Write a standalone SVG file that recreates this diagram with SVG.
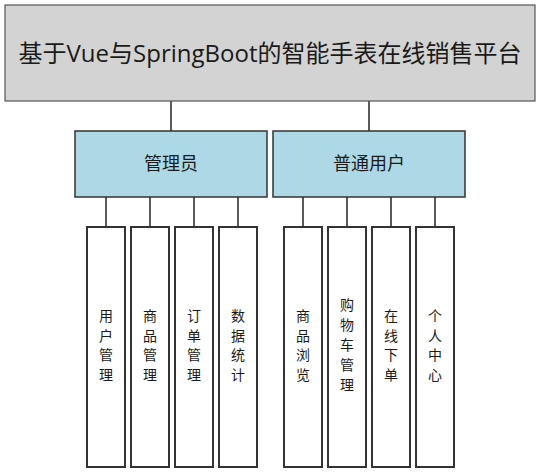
<svg xmlns="http://www.w3.org/2000/svg" width="540" height="473" viewBox="0 0 540 473">
<style>
  .box { stroke: #333; stroke-width: 1.5; }
  .root { fill: #d3d3d3; stroke: #555; stroke-width: 1.2; }
  .mid { fill: #add8e6; }
  .leaf { fill: #ffffff; stroke-width: 2; }
  .t { font-family: "Segoe UI", "Open Sans", "Noto Sans CJK SC", sans-serif; fill: #1a1a1a; text-anchor: middle; }
  .title { font-size: 24px; }
  .midt { font-size: 18px; }
  .leaft { font-size: 14px; }
  .conn { stroke: #222; stroke-width: 1.5; fill: none; }
</style>
<rect x="0" y="0" width="540" height="473" fill="#ffffff"/>
<g id="connectors">
  <line class="conn" x1="171" y1="101" x2="171" y2="131"/>
  <line class="conn" x1="369" y1="101" x2="369" y2="131"/>
  <line class="conn" x1="106" y1="197" x2="106" y2="227"/>
  <line class="conn" x1="150" y1="197" x2="150" y2="227"/>
  <line class="conn" x1="194" y1="197" x2="194" y2="227"/>
  <line class="conn" x1="238" y1="197" x2="238" y2="227"/>
  <line class="conn" x1="303" y1="197" x2="303" y2="227"/>
  <line class="conn" x1="347" y1="197" x2="347" y2="227"/>
  <line class="conn" x1="391" y1="197" x2="391" y2="227"/>
  <line class="conn" x1="435" y1="197" x2="435" y2="227"/>
</g>
<g id="root">
  <rect class="root" x="5" y="5" width="530" height="96"/>
  <text class="t title" x="270" y="62">基于Vue与SpringBoot的智能手表在线销售平台</text>
</g>
<g id="admin">
  <rect class="box mid" x="75" y="131" width="192" height="66"/>
  <text class="t midt" x="171" y="170">管理员</text>
</g>
<g id="user">
  <rect class="box mid" x="273" y="131" width="192" height="66"/>
  <text class="t midt" x="369" y="170">普通用户</text>
</g>
<g id="leaf-user-manage">
  <rect class="box leaf" x="87" y="227" width="38" height="240"/>
  <text class="t leaft" x="106" y="321"><tspan x="106">用</tspan><tspan x="106" dy="19.5">户</tspan><tspan x="106" dy="19.5">管</tspan><tspan x="106" dy="19.5">理</tspan></text>
</g>
<g id="leaf-goods-manage">
  <rect class="box leaf" x="131" y="227" width="38" height="240"/>
  <text class="t leaft" x="150" y="321"><tspan x="150">商</tspan><tspan x="150" dy="19.5">品</tspan><tspan x="150" dy="19.5">管</tspan><tspan x="150" dy="19.5">理</tspan></text>
</g>
<g id="leaf-order-manage">
  <rect class="box leaf" x="175" y="227" width="38" height="240"/>
  <text class="t leaft" x="194" y="321"><tspan x="194">订</tspan><tspan x="194" dy="19.5">单</tspan><tspan x="194" dy="19.5">管</tspan><tspan x="194" dy="19.5">理</tspan></text>
</g>
<g id="leaf-stats">
  <rect class="box leaf" x="219" y="227" width="38" height="240"/>
  <text class="t leaft" x="238" y="321"><tspan x="238">数</tspan><tspan x="238" dy="19.5">据</tspan><tspan x="238" dy="19.5">统</tspan><tspan x="238" dy="19.5">计</tspan></text>
</g>
<g id="leaf-browse">
  <rect class="box leaf" x="284" y="227" width="38" height="240"/>
  <text class="t leaft" x="303" y="321"><tspan x="303">商</tspan><tspan x="303" dy="19.5">品</tspan><tspan x="303" dy="19.5">浏</tspan><tspan x="303" dy="19.5">览</tspan></text>
</g>
<g id="leaf-cart">
  <rect class="box leaf" x="328" y="227" width="38" height="240"/>
  <text class="t leaft" x="347" y="310"><tspan x="347">购</tspan><tspan x="347" dy="20">物</tspan><tspan x="347" dy="20">车</tspan><tspan x="347" dy="20">管</tspan><tspan x="347" dy="20">理</tspan></text>
</g>
<g id="leaf-order">
  <rect class="box leaf" x="372" y="227" width="38" height="240"/>
  <text class="t leaft" x="391" y="321"><tspan x="391">在</tspan><tspan x="391" dy="19.5">线</tspan><tspan x="391" dy="19.5">下</tspan><tspan x="391" dy="19.5">单</tspan></text>
</g>
<g id="leaf-profile">
  <rect class="box leaf" x="416" y="227" width="38" height="240"/>
  <text class="t leaft" x="435" y="321"><tspan x="435">个</tspan><tspan x="435" dy="19.5">人</tspan><tspan x="435" dy="19.5">中</tspan><tspan x="435" dy="19.5">心</tspan></text>
</g>
</svg>
